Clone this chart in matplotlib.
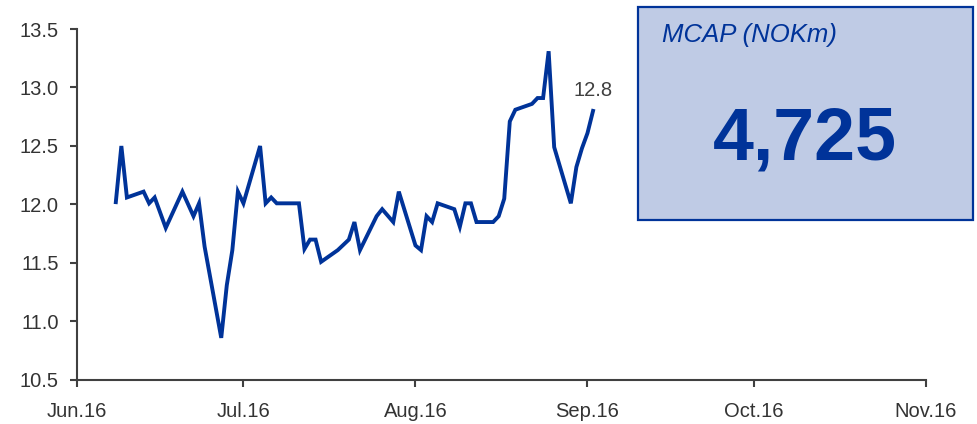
import matplotlib
matplotlib.use("Agg")
import matplotlib.pyplot as plt
import matplotlib.dates as mdates
from matplotlib.patches import Rectangle
import pandas as pd

# share price (NOK)
dates = ["2016-06-08", "2016-06-09", "2016-06-10", "2016-06-13", "2016-06-14",
         "2016-06-15", "2016-06-17", "2016-06-20", "2016-06-22", "2016-06-23",
         "2016-06-24", "2016-06-27", "2016-06-28", "2016-06-29", "2016-06-30",
         "2016-07-01", "2016-07-04", "2016-07-05", "2016-07-06", "2016-07-07",
         "2016-07-11", "2016-07-12", "2016-07-13", "2016-07-14", "2016-07-15",
         "2016-07-18", "2016-07-20", "2016-07-21", "2016-07-22", "2016-07-25",
         "2016-07-26", "2016-07-28", "2016-07-29", "2016-08-01", "2016-08-02",
         "2016-08-03", "2016-08-04", "2016-08-05", "2016-08-08", "2016-08-09",
         "2016-08-10", "2016-08-11", "2016-08-12", "2016-08-15", "2016-08-16",
         "2016-08-17", "2016-08-18", "2016-08-19", "2016-08-22", "2016-08-23",
         "2016-08-24", "2016-08-25", "2016-08-26", "2016-08-29", "2016-08-30",
         "2016-08-31", "2016-09-01", "2016-09-02"]
price = [12.02, 12.50, 12.06, 12.11, 12.01, 12.06, 11.80, 12.11, 11.90, 12.01,
         11.64, 10.86, 11.31, 11.61, 12.11, 12.01, 12.50, 12.01, 12.06, 12.01,
         12.01, 11.62, 11.70, 11.70, 11.51, 11.61, 11.70, 11.85, 11.61, 11.90,
         11.96, 11.85, 12.11, 11.65, 11.61, 11.90, 11.85, 12.01, 11.96, 11.81,
         12.01, 12.01, 11.85, 11.85, 11.90, 12.05, 12.71, 12.81, 12.86, 12.91,
         12.91, 13.31, 12.49, 12.01, 12.32, 12.48, 12.61, 12.80]
last_label = "12.8"
mcap_title = "MCAP (NOKm)"
mcap_value = "4,725"

blue = "#003399"
grey = "#404040"
font = "Liberation Sans"

x = pd.to_datetime(dates)

fig = plt.figure(figsize=(9.78, 4.24), dpi=100)
ax = fig.add_axes([0.0787, 0.1038, 0.8681, 0.8278])

ax.plot(x, price, color=blue, lw=2.8, solid_joinstyle="miter")
ax.annotate(last_label, (x[-1], price[-1]), xytext=(0, 15), textcoords="offset points",
            ha="center", va="center", fontsize=14.5, color=grey, family=font)

ax.set_xlim(pd.Timestamp("2016-06-01"), pd.Timestamp("2016-11-01"))
ax.set_ylim(10.5, 13.5)
ax.set_yticks([10.5, 11.0, 11.5, 12.0, 12.5, 13.0, 13.5])
ax.yaxis.set_major_formatter(plt.FormatStrFormatter("%.1f"))
ax.xaxis.set_major_locator(mdates.MonthLocator())
ax.xaxis.set_major_formatter(mdates.DateFormatter("%b.%y"))

for s in ["top", "right"]:
    ax.spines[s].set_visible(False)
for s in ["left", "bottom"]:
    ax.spines[s].set_color(grey)
    ax.spines[s].set_linewidth(1.5)
ax.tick_params(colors=grey, width=1.5, length=5, labelsize=14.5, labelcolor="#333333")
ax.tick_params(axis="y", pad=8)
ax.tick_params(axis="x", pad=11)
for lab in ax.get_xticklabels() + ax.get_yticklabels():
    lab.set_family(font)

# market cap box
fig.patches.append(Rectangle((0.6527, 0.4811), 0.3425, 0.5031, transform=fig.transFigure,
                             facecolor="#BFCBE5", edgecolor=blue, lw=1.6, zorder=5))
fig.text(0.6766, 0.9175, mcap_title, color=blue, fontsize=18.5, style="italic",
         family=font, ha="left", va="center", zorder=6)
fig.text(0.8231, 0.6698, mcap_value, color=blue, fontsize=53, weight="bold",
         family=font, ha="center", va="center", zorder=6)

fig.savefig("out.png", dpi=100)
